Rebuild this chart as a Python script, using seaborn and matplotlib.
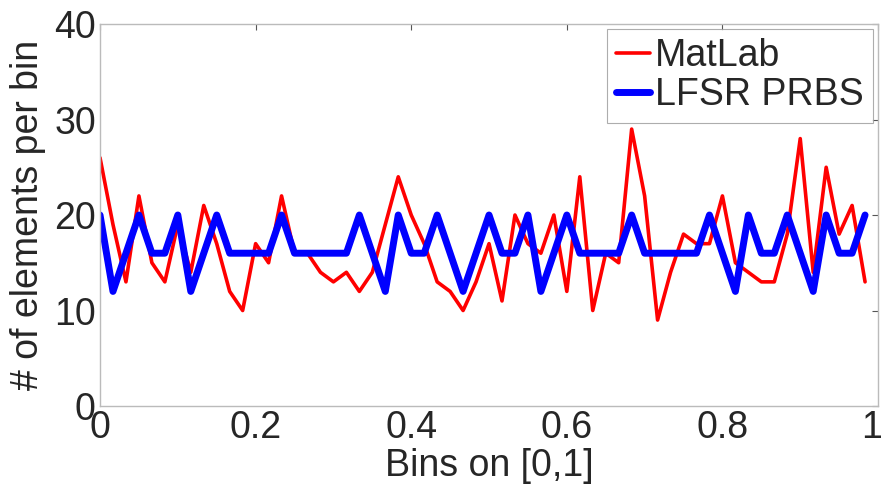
import numpy as np
import pandas as pd
import matplotlib
matplotlib.use('Agg')
import matplotlib.pyplot as plt
import matplotlib.transforms as mtransforms
import seaborn as sns

# 1000 samples sorted into 60 bins on [0,1]
n_bins = 60
bin_pos = np.arange(n_bins) / n_bins

matlab_counts = [26, 19, 13, 22, 15, 13, 19, 14, 21, 17,
                 12, 10, 17, 15, 22, 16, 16, 14, 13, 14,
                 12, 14, 19, 24, 20, 17, 13, 12, 10, 13,
                 17, 11, 20, 17, 16, 20, 12, 24, 10, 16,
                 15, 29, 22, 9, 14, 18, 17, 17, 22, 15,
                 14, 13, 13, 18, 28, 14, 25, 18, 21, 13]

lfsr_counts = [20, 12, 16, 20, 16, 16, 20, 12, 16, 20,
               16, 16, 16, 16, 20, 16, 16, 16, 16, 16,
               20, 16, 12, 20, 16, 16, 20, 16, 12, 16,
               20, 16, 16, 20, 12, 16, 20, 16, 16, 16,
               16, 20, 16, 16, 16, 16, 16, 20, 16, 12,
               20, 16, 16, 20, 16, 12, 20, 16, 16, 20]

x_ticks = [0, 0.2, 0.4, 0.6, 0.8, 1]
x_ticklabels = ['0', '0.2', '0.4', '0.6', '0.8', '1']
y_ticks = [0, 10, 20, 30, 40]

df = pd.DataFrame({'bin': bin_pos, 'MatLab': matlab_counts, 'LFSR PRBS': lfsr_counts})

sns.set_style('white')
plt.rcParams['font.family'] = ['Liberation Sans', 'DejaVu Sans']

FS = 27

fig = plt.figure(figsize=(8.82, 4.9), dpi=100)
ax = fig.add_axes([0.1134, 0.1714, 0.8821, 0.7796])

sns.lineplot(data=df, x='bin', y='MatLab', ax=ax, color='#ff0000', linewidth=2.6, label='MatLab')
sns.lineplot(data=df, x='bin', y='LFSR PRBS', ax=ax, color='#0000ff', linewidth=5.0, label='LFSR PRBS')

ax.set_xlim(0, 1)
ax.set_ylim(0, 40)
ax.set_xticks(x_ticks)
ax.set_xticklabels(x_ticklabels)
ax.set_yticks(y_ticks)
ax.set_xlabel('Bins on [0,1]', fontsize=FS, labelpad=1)
ax.set_ylabel('# of elements per bin', fontsize=FS, labelpad=6)
ax.tick_params(axis='both', direction='in', length=4, width=0.8, color='#555555',
               labelsize=FS, top=True, right=True, pad=3)

# last x tick label sits right on the figure edge, nudge it in a little
last = ax.get_xticklabels()[-1]
last.set_transform(last.get_transform() +
                   mtransforms.ScaledTranslation(-6 / 100, 0, fig.dpi_scale_trans))

for s in ax.spines.values():
    s.set_color('#bbbbbb')
    s.set_linewidth(1.0)

leg = ax.legend(loc='upper right', fontsize=FS, handlelength=0.9, handletextpad=0.13,
                borderaxespad=0.13, borderpad=0.25, labelspacing=0.08, frameon=True,
                fancybox=False)
leg.get_frame().set_edgecolor('#999999')
leg.get_frame().set_linewidth(0.8)
leg.legend_handles[0].set_linewidth(2.6)
leg.legend_handles[1].set_linewidth(5.0)

fig.savefig('out.png', dpi=100)
